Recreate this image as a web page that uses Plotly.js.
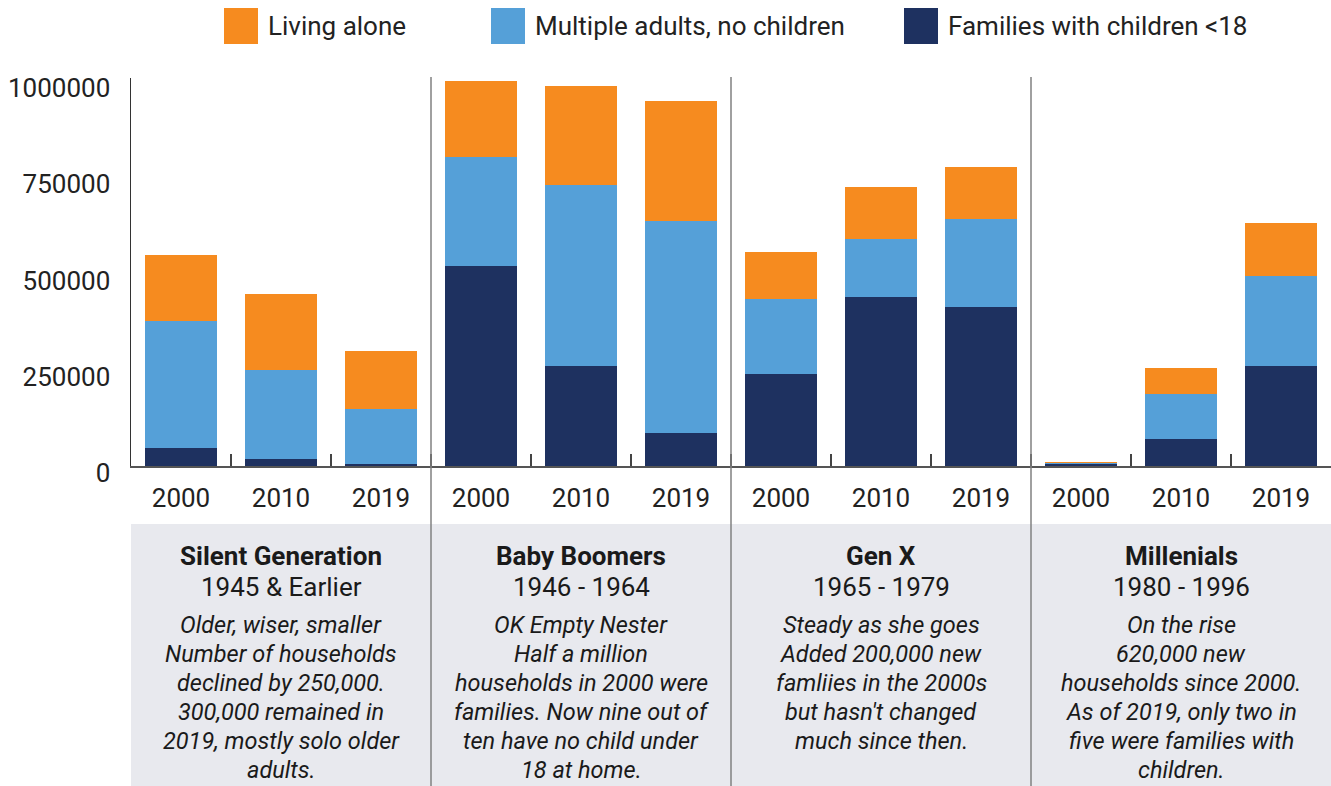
<!DOCTYPE html>
<html>
<head>
<meta charset="utf-8">
<script src="https://cdn.plot.ly/plotly-3.0.1.min.js"></script>
<style>
  html, body { margin: 0; padding: 0; background: #ffffff; }
  #chart { width: 1331px; height: 786px; }
</style>
</head>
<body>
<div id="chart"></div>
<script>
// ---- Data ----
const generations = ["Silent Generation", "Baby Boomers", "Gen X", "Millenials"];
const birthYears = ["1945 & Earlier", "1946 - 1964", "1965 - 1979", "1980 - 1996"];
const years = ["2000", "2010", "2019"];
const families = [45500, 16900, 6500, 518200, 261000, 87000, 237700, 437700, 414300, 5000, 71400, 261000];
const multiAdults = [330600, 233700, 141000, 283900, 468400, 548800, 195600, 151400, 226800, 2600, 116900, 233800];
const livingAlone = [170700, 194900, 152500, 199200, 258900, 311000, 123800, 134300, 136800, 2600, 67500, 135100];
const seriesNames = ["Families with children <18", "Multiple adults, no children", "Living alone"];
const yTicks = [0, 250000, 500000, 750000, 1000000];
const descriptions = [
  "Older, wiser, smaller<br>Number of households<br>declined by 250,000.<br>300,000 remained in<br>2019, mostly solo older<br>adults.",
  "OK Empty Nester<br>Half a million<br>households in 2000 were<br>families. Now nine out of<br>ten have no child under<br>18 at home.",
  "Steady as she goes<br>Added 200,000 new<br>famliies in the 2000s<br>but hasn't changed<br>much since then.",
  "On the rise<br>620,000 new<br>households since 2000.<br>As of 2019, only two in<br>five were families with<br>children."
];

// ---- Build categories ----
const cats = [];
const catLabels = [];
generations.forEach(g => years.forEach(y => { cats.push(g + " " + y); catLabels.push(y); }));

const colors = { fam: "#1E3160", multi: "#55A0D8", alone: "#F68B1F" };
const FONT = "Roboto, 'Noto Sans', sans-serif";

const traces = [
  { type: "bar", name: seriesNames[0], x: cats, y: families, marker: { color: colors.fam } },
  { type: "bar", name: seriesNames[1], x: cats, y: multiAdults, marker: { color: colors.multi } },
  { type: "bar", name: seriesNames[2], x: cats, y: livingAlone, marker: { color: colors.alone } }
].map(t => Object.assign(t, { hoverinfo: "x+y+name", showlegend: false }));

// ---- Layout helpers (pixel -> paper) ----
const M = { l: 131, r: 0, t: 78, b: 320 };
const W = 1331, H = 786;
const plotH = H - M.t - M.b, plotW = W - M.l - M.r;
const py = pix => (H - M.b - pix) / plotH;
const px = pix => (pix - M.l) / plotW;

const shapes = [];
const annotations = [];

// grey band below axis
shapes.push({ type: "rect", xref: "paper", yref: "paper", x0: 0, x1: 1, y0: py(786), y1: py(524),
  fillcolor: "#E8E9EE", line: { width: 0 }, layer: "below" });

// group dividers
for (let i = 1; i < generations.length; i++) {
  const xv = i * years.length - 0.5;
  shapes.push({ type: "line", xref: "x", yref: "paper", x0: xv, x1: xv, y0: py(786), y1: py(77),
    line: { color: "#808080", width: 1.5 } });
}

// panel texts
generations.forEach((g, i) => {
  const xc = i * years.length + 1;
  annotations.push({ xref: "x", yref: "paper", x: xc, y: py(556), yanchor: "middle", xanchor: "center",
    text: "<b>" + g + "</b>", showarrow: false, font: { family: FONT, size: 26, color: "#1a1a1a" } });
  annotations.push({ xref: "x", yref: "paper", x: xc, y: py(587), yanchor: "middle", xanchor: "center",
    text: birthYears[i], showarrow: false, font: { family: FONT, size: 26, color: "#1a1a1a" } });
  descriptions[i].split("<br>").forEach((line, k) => {
    annotations.push({ xref: "x", yref: "paper", x: xc, y: py(625 + 29 * k), yanchor: "middle", xanchor: "center",
      text: "<i>" + line + "</i>", showarrow: false,
      font: { family: FONT, size: 23.5, color: "#1a1a1a" } });
  });
});

// custom legend
const legendItems = [
  { name: seriesNames[2], color: colors.alone, x: 224 },
  { name: seriesNames[1], color: colors.multi, x: 491 },
  { name: seriesNames[0], color: colors.fam, x: 904 }
];
legendItems.forEach(it => {
  shapes.push({ type: "rect", xref: "paper", yref: "paper", x0: px(it.x), x1: px(it.x + 34),
    y0: py(44), y1: py(8), fillcolor: it.color, line: { width: 0 } });
  annotations.push({ xref: "paper", yref: "paper", x: px(it.x + 42), y: py(26), xanchor: "left", yanchor: "middle",
    text: it.name, showarrow: false, font: { family: FONT, size: 26, color: "#222" } });
});

const layout = {
  width: W, height: H,
  margin: M,
  paper_bgcolor: "#ffffff", plot_bgcolor: "#ffffff",
  barmode: "stack",
  bargap: 0.28,
  font: { family: FONT, size: 26, color: "#222" },
  showlegend: false,
  xaxis: {
    type: "category",
    tickmode: "array", tickvals: cats, ticktext: catLabels,
    tickson: "boundaries", ticks: "inside", ticklen: 12, tickwidth: 1.5, tickcolor: "#444",
    showline: true, linecolor: "#555", linewidth: 2,
    showgrid: false, zeroline: false,
    tickfont: { family: FONT, size: 26, color: "#222" },
    ticklabelstandoff: 8,
    range: [-0.5, cats.length - 0.5], fixedrange: true
  },
  yaxis: {
    range: [0, 1007800],
    tickmode: "array", tickvals: yTicks, tickformat: "d",
    showline: true, linecolor: "#333", linewidth: 1.5,
    showgrid: false, zeroline: false, ticks: "",
    tickfont: { family: FONT, size: 26, color: "#222" },
    ticklabelstandoff: 14, ticklabelshift: 7,
    fixedrange: true
  },
  shapes: shapes,
  annotations: annotations
};

Plotly.newPlot("chart", traces, layout, { displayModeBar: false, staticPlot: true });
</script>
</body>
</html>
